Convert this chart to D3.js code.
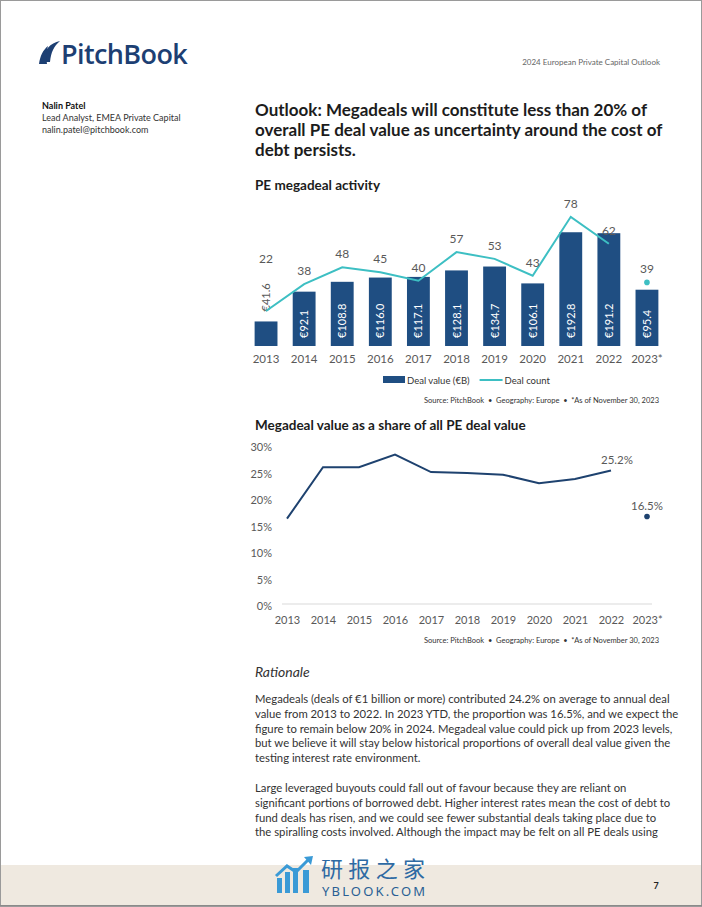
<!DOCTYPE html>
<html>
<head>
<meta charset="utf-8">
<script src="https://cdn.jsdelivr.net/npm/d3@7"></script>
<style>
  html, body { margin: 0; padding: 0; background: #fff; }
  svg { display: block; }
  text { font-family: Lato, "Open Sans", sans-serif; }
</style>
</head>
<body>
<svg id="page" width="702" height="907"></svg>
<script>
// ---------- DATA ----------
const years = ["2013","2014","2015","2016","2017","2018","2019","2020","2021","2022","2023*"];
const dealValue = [41.6, 92.1, 108.8, 116.0, 117.1, 128.1, 134.7, 106.1, 192.8, 191.2, 95.4];
const dealCount = [22, 38, 48, 45, 40, 57, 53, 43, 78, 62, 39];
const megaShare = [0.161, 0.258, 0.258, 0.282, 0.249, 0.247, 0.244, 0.228, 0.236, 0.252, 0.165];
const shareTicks = [0, 0.05, 0.10, 0.15, 0.20, 0.25, 0.30];
const legendLabels = ["Deal value (\u20ACB)", "Deal count"];

const headerText = "2024 European Private Capital Outlook";
const authorLines = ["Nalin Patel", "Lead Analyst, EMEA Private Capital", "nalin.patel@pitchbook.com"];
const titleLines = ["Outlook: Megadeals will constitute less than 20% of",
                    "overall PE deal value as uncertainty around the cost of",
                    "debt persists."];
const chart1Title = "PE megadeal activity";
const chart2Title = "Megadeal value as a share of all PE deal value";
const sourceText = "Source: PitchBook  \u2022  Geography: Europe  \u2022  *As of November 30, 2023";
const para1 = ["Megadeals (deals of \u20AC1 billion or more) contributed 24.2% on average to annual deal",
               "value from 2013 to 2022. In 2023 YTD, the proportion was 16.5%, and we expect the",
               "figure to remain below 20% in 2024. Megadeal value could pick up from 2023 levels,",
               "but we believe it will stay below historical proportions of overall deal value given the",
               "testing interest rate environment."];
const para2 = ["Large leveraged buyouts could fall out of favour because they are reliant on",
               "significant portions of borrowed debt. Higher interest rates mean the cost of debt to",
               "fund deals has risen, and we could see fewer substantial deals taking place due to",
               "the spiralling costs involved. Although the impact may be felt on all PE deals using"];

// ---------- STYLE ----------
const NAVY = "#1f4e82";
const TEAL = "#3dbfc3";
const GREY_TXT = "#595959";
const DARK = "#1c1c1c";

const svg = d3.select("#page");

// page border
svg.append("rect").attr("x",0.5).attr("y",0.5).attr("width",701).attr("height",906)
  .attr("fill","none").attr("stroke","#9a9a9a").attr("stroke-width",1);

// ---------- HEADER ----------
const logo = svg.append("g").attr("transform","translate(38,40)");
logo.append("path").attr("d","M4,22 C6,10 12,3 22,1 C16,6 13,12 12,22 Z").attr("fill","#1d3f73");
logo.append("path").attr("d","M1,24 C2,16 5,10 10,6 C8,12 8,18 9,24 Z").attr("fill","#1d3f73");
logo.append("text").attr("x",23).attr("y",24).attr("font-size",27).attr("font-weight",600)
  .attr("fill","#1d3f73").attr("letter-spacing","-0.6").style("font-family","'Open Sans', Lato, sans-serif")
  .text("PitchBook");

svg.append("text").attr("x",660).attr("y",65).attr("text-anchor","end")
  .attr("font-size",8).attr("fill","#666").text(headerText);

// author
authorLines.forEach((t,i)=>{
  svg.append("text").attr("x",42).attr("y",109 + i*12)
    .attr("font-size",9).attr("font-weight", i===0 ? 700 : 400)
    .attr("fill", i===0 ? "#111" : "#333").text(t);
});

// main title
titleLines.forEach((t,i)=>{
  svg.append("text").attr("x",255).attr("y",116 + i*20)
    .attr("font-size",17).attr("font-weight",700).attr("fill",DARK).text(t);
});

// ---------- CHART 1 ----------
svg.append("text").attr("x",255).attr("y",190).attr("font-size",13.5).attr("font-weight",700)
  .attr("fill",DARK).text(chart1Title);

const x1 = d3.scaleBand().domain(years).range([247,666]).paddingInner(0.4).paddingOuter(0.2);
const yVal = d3.scaleLinear().domain([0,250]).range([346, 346 - 250*0.59]);
const yCnt = d3.scaleLinear().domain([0,88]).range([348, 200]);

const c1 = svg.append("g");
const rows = years.map((y,i)=>({year:y, v:dealValue[i], c:dealCount[i]}));

c1.selectAll("rect.bar").data(rows).join("rect").attr("class","bar")
  .attr("x",d=>x1(d.year)).attr("width",x1.bandwidth())
  .attr("y",d=>yVal(d.v)).attr("height",d=>yVal(0)-yVal(d.v)).attr("fill",NAVY);

// bar value labels (rotated)
const LBL_LEN = 30;
rows.forEach(d=>{
  const cx = x1(d.year) + x1.bandwidth()/2;
  const h = yVal(0)-yVal(d.v);
  d.inside = h > LBL_LEN + 12;
  const ay = d.inside ? yVal(0) - 8 : yVal(d.v) - 10;
  d.labelTop = d.inside ? null : ay - LBL_LEN;
  c1.append("text")
    .attr("transform",`translate(${cx + 4},${ay}) rotate(-90)`)
    .attr("text-anchor","start").attr("font-size",11)
    .attr("fill", d.inside ? "#fff" : GREY_TXT)
    .text("\u20AC" + d3.format(".1f")(d.v));
});

// count line (2013-2022), separate dot for 2023*
const lineRows = rows.slice(0,10);
const cx1 = d => x1(d.year) + x1.bandwidth()/2;
c1.append("path").datum(lineRows)
  .attr("d", d3.line().x(cx1).y(d=>yCnt(d.c)))
  .attr("fill","none").attr("stroke",TEAL).attr("stroke-width",2);
const last = rows[10];
c1.append("circle").attr("cx",cx1(last)).attr("cy",yCnt(last.c)).attr("r",2.8).attr("fill",TEAL);

// count labels
rows.forEach(d=>{
  const py = yCnt(d.c);
  const ly = d.labelTop !== null ? d.labelTop - 18 : py - 9;
  c1.append("text").attr("x",cx1(d)).attr("y",ly).attr("text-anchor","middle")
    .attr("font-size",12).attr("fill",GREY_TXT).text(d.c);
});

// x axis
const ax1 = c1.append("g").attr("transform","translate(0,353)")
  .call(d3.axisBottom(x1).tickSize(0).tickPadding(0));
ax1.select(".domain").remove();
ax1.selectAll("text").attr("font-size",11.5).attr("fill",GREY_TXT).attr("dy","0.85em")
  .style("font-family","Lato, sans-serif");

// legend
const lg = svg.append("g").attr("transform","translate(383,380)");
lg.append("rect").attr("x",0).attr("y",-4).attr("width",22).attr("height",7).attr("fill",NAVY);
const lt1 = lg.append("text").attr("x",24).attr("y",3.5).attr("font-size",9.5).attr("fill","#333").text(legendLabels[0]);
const w1 = lt1.node().getComputedTextLength();
const lx = Math.max(90, 24 + w1 + 10);
lg.append("line").attr("x1",lx).attr("x2",lx+23).attr("y1",0).attr("y2",0).attr("stroke",TEAL).attr("stroke-width",2);
lg.append("text").attr("x",lx+25).attr("y",3.5).attr("font-size",9.5).attr("fill","#333").text(legendLabels[1]);

svg.append("text").attr("x",659).attr("y",403).attr("text-anchor","end")
  .attr("font-size",7.5).attr("fill","#333").attr("xml:space","preserve").text(sourceText);

// ---------- CHART 2 ----------
svg.append("text").attr("x",255).attr("y",430).attr("font-size",13.5).attr("font-weight",700)
  .attr("fill",DARK).text(chart2Title);

const x2 = d3.scalePoint().domain(years).range([287,647]);
const y2 = d3.scaleLinear().domain([0,0.30]).range([604,445]);
const c2 = svg.append("g");

c2.append("line").attr("x1",282).attr("x2",652).attr("y1",y2(0)).attr("y2",y2(0))
  .attr("stroke","#d9d9d9").attr("stroke-width",1);

const ay2 = c2.append("g").attr("transform","translate(272,0)")
  .call(d3.axisLeft(y2).tickValues(shareTicks).tickFormat(d3.format(".0%")).tickSize(0).tickPadding(0));
ay2.select(".domain").remove();
ay2.selectAll("text").attr("font-size",11).attr("fill",GREY_TXT).attr("dy","0.5em")
  .style("font-family","Lato, sans-serif");

const ax2 = c2.append("g").attr("transform","translate(0,615)")
  .call(d3.axisBottom(x2).tickSize(0).tickPadding(0));
ax2.select(".domain").remove();
ax2.selectAll("text").attr("font-size",11).attr("fill",GREY_TXT).attr("dy","0.85em")
  .style("font-family","Lato, sans-serif");

const shareRows = years.map((y,i)=>({year:y, s:megaShare[i]}));
c2.append("path").datum(shareRows.slice(0,10))
  .attr("d", d3.line().x(d=>x2(d.year)).y(d=>y2(d.s)))
  .attr("fill","none").attr("stroke","#1e426f").attr("stroke-width",2);
c2.append("circle").attr("cx",x2(years[10])).attr("cy",y2(megaShare[10])).attr("r",2.8).attr("fill","#1e426f");

c2.append("text").attr("x",x2(years[9])+6).attr("y",y2(megaShare[9])-6).attr("text-anchor","middle")
  .attr("font-size",11.5).attr("fill",GREY_TXT).text(d3.format(".1%")(megaShare[9]));
c2.append("text").attr("x",x2(years[10])).attr("y",y2(megaShare[10])-7).attr("text-anchor","middle")
  .attr("font-size",11.5).attr("fill",GREY_TXT).text(d3.format(".1%")(megaShare[10]));

svg.append("text").attr("x",659).attr("y",643).attr("text-anchor","end")
  .attr("font-size",7.5).attr("fill","#333").attr("xml:space","preserve").text(sourceText);

// ---------- TEXT ----------
svg.append("text").attr("x",255).attr("y",677).attr("font-size",14).attr("font-style","italic")
  .attr("fill","#333").text("Rationale");
para1.forEach((t,i)=>{
  svg.append("text").attr("x",255).attr("y",703 + i*14.75).attr("font-size",11.3)
    .attr("fill","#333").text(t);
});
para2.forEach((t,i)=>{
  svg.append("text").attr("x",255).attr("y",792 + i*14.75).attr("font-size",11.3)
    .attr("fill","#333").text(t);
});

// ---------- FOOTER ----------
svg.append("rect").attr("x",1).attr("y",865).attr("width",700).attr("height",40).attr("fill","#efe9e0");
svg.append("line").attr("x1",0).attr("x2",702).attr("y1",905.5).attr("y2",905.5).attr("stroke","#8a8a8a");
svg.append("text").attr("x",656).attr("y",889).attr("text-anchor","middle").attr("font-size",9)
  .attr("font-weight",700).attr("fill","#222").text("7");

// watermark
const wm = svg.append("g");
[[277,878,5,15],[285,872,5,21],[293,868,5,25]].forEach(b=>{
  wm.append("rect").attr("x",b[0]).attr("y",b[1]).attr("width",b[2]).attr("height",b[3]).attr("fill","#3a9ad6");
});
wm.append("rect").attr("x",303).attr("y",870).attr("width",6).attr("height",23).attr("fill","#3a9ad6");
wm.append("path").attr("d","M276,876 L287,866 L296,872 L309,859").attr("fill","none")
  .attr("stroke","#3a9ad6").attr("stroke-width",3);
wm.append("path").attr("d","M304,857 L313,856 L311,865 Z").attr("fill","#3a9ad6");
wm.append("text").attr("x",321).attr("y",877).attr("font-size",22).attr("fill","#2e6aa3")
  .attr("textLength",104).style("font-family","'Noto Sans CJK SC', sans-serif").text("研报之家");
wm.append("text").attr("x",322).attr("y",896).attr("font-size",13).attr("fill","#2a5f94")
  .style("font-family","'Noto Sans', sans-serif").attr("textLength",103).text("YBLOOK.COM");
</script>
</body>
</html>
